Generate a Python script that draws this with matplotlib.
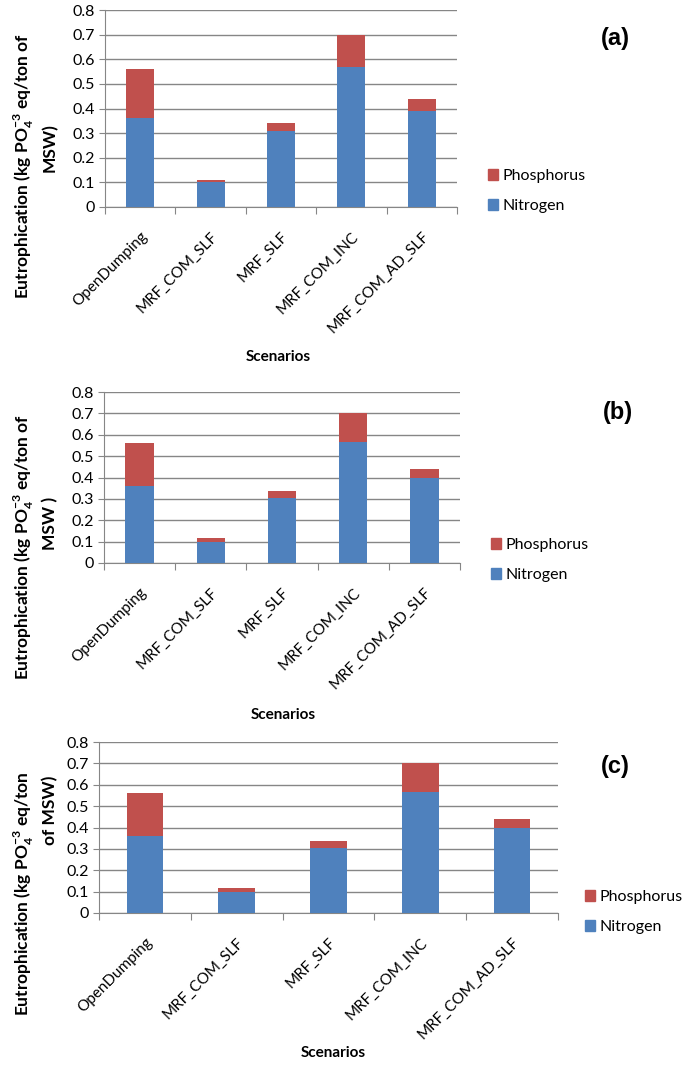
import numpy as np
import matplotlib
matplotlib.use("Agg")
import matplotlib.pyplot as plt
from matplotlib.patches import Patch

############################### donnees ###############################

scenarios = ["OpenDumping", "MRF_COM_SLF", "MRF_SLF", "MRF_COM_INC", "MRF_COM_AD_SLF"]

# panneau (a)
nitrogen_a = [0.36, 0.10, 0.31, 0.57, 0.39]
phosphorus_a = [0.20, 0.01, 0.03, 0.13, 0.05]
# panneau (b)
nitrogen_b = [0.36, 0.10, 0.305, 0.565, 0.40]
phosphorus_b = [0.20, 0.015, 0.03, 0.135, 0.04]
# panneau (c)
nitrogen_c = [0.36, 0.10, 0.305, 0.565, 0.40]
phosphorus_c = [0.20, 0.015, 0.03, 0.135, 0.04]

yticks = [0, 0.1, 0.2, 0.3, 0.4, 0.5, 0.6, 0.7, 0.8]

############################### style ###############################

W, H = 685, 1066
BLUE = "#4F81BD"
RED = "#C0504D"
GRIS = "#868686"

plt.rcParams["font.family"] = ["Lato", "DejaVu Sans"]
plt.rcParams["mathtext.fontset"] = "custom"
plt.rcParams["mathtext.rm"] = "Lato"
plt.rcParams["mathtext.bf"] = "Lato:bold"

fig = plt.figure(figsize=(W / 100, H / 100), dpi=100)


def px(x, y):  # pixels image -> coordonnees figure
    return x / W, 1 - y / H


def panneau(rect, nitro, phos, lettre, leg_xy, lettre_xy, scen_xy, ylab1, ylab2):
    l, t, r, b = rect
    ax = fig.add_axes([l / W, 1 - b / H, (r - l) / W, (b - t) / H])
    x = np.arange(len(scenarios))
    ax.bar(x, nitro, width=0.4, color=BLUE, label="Nitrogen", zorder=3)
    ax.bar(x, phos, width=0.4, bottom=nitro, color=RED, label="Phosphorus", zorder=3)
    ax.set_xlim(-0.5, len(scenarios) - 0.5)
    ax.set_ylim(0, 0.8)
    ax.set_yticks(yticks)
    ax.set_yticklabels([f"{v:g}" for v in yticks], fontsize=11.5)
    ax.yaxis.grid(True, color=GRIS, lw=1, zorder=0)
    for s in ["top", "right"]:
        ax.spines[s].set_visible(False)
    for s in ["left", "bottom"]:
        ax.spines[s].set_color(GRIS)
    ax.tick_params(axis="y", length=4, color=GRIS, pad=3)
    # ticks majeurs aux frontieres de categorie, labels en mineur
    ax.set_xticks(np.arange(-0.5, len(scenarios), 1.0))
    ax.set_xticklabels([])
    ax.tick_params(axis="x", which="major", length=5, color=GRIS)
    ax.set_xticks(x, minor=True)
    ax.set_xticklabels(scenarios, minor=True, rotation=45, ha="right",
                       rotation_mode="anchor", fontsize=11)
    ax.tick_params(axis="x", which="minor", length=0, pad=16)

    handles = [Patch(color=RED, label="Phosphorus"), Patch(color=BLUE, label="Nitrogen")]
    fig.legend(handles=handles, loc="center left", bbox_to_anchor=px(*leg_xy),
               frameon=False, fontsize=11.5, handlelength=0.6, handleheight=0.7,
               handletextpad=0.3, labelspacing=1.0, borderpad=0, borderaxespad=0)

    fig.text(*px(*lettre_xy), lettre, fontsize=17, fontweight="bold",
             family="Liberation Sans", ha="center", va="center")
    fig.text(*px(*scen_xy), "Scenarios", fontsize=11, fontweight="bold",
             ha="center", va="center")
    fig.text(*px(24, ylab1[1]), ylab1[0], rotation=90, fontsize=12.5,
             fontweight="bold", ha="center", va="center")
    fig.text(*px(50, ylab2[1]), ylab2[0], rotation=90, fontsize=12.5,
             fontweight="bold", ha="center", va="center")
    return ax


PO4 = r"PO$_\mathbf{4}^{\mathbf{-3}}$"

panneau((105, 10, 457, 207), nitrogen_a, phosphorus_a, "(a)",
        (488, 191), (615, 38), (278, 357),
        ("Eutrophication (kg " + PO4 + " eq/ton of", 166), ("MSW)", 148))
panneau((104, 392, 460, 563), nitrogen_b, phosphorus_b, "(b)",
        (491, 560), (618, 413), (283, 715),
        ("Eutrophication (kg " + PO4 + " eq/ton of", 547), ("MSW )", 523))
panneau((99, 742, 558, 913), nitrogen_c, phosphorus_c, "(c)",
        (585, 912), (615, 767), (333, 1053),
        ("Eutrophication (kg " + PO4 + " eq/ton", 894), ("of MSW)", 810))

fig.savefig("out.png", dpi=100)
